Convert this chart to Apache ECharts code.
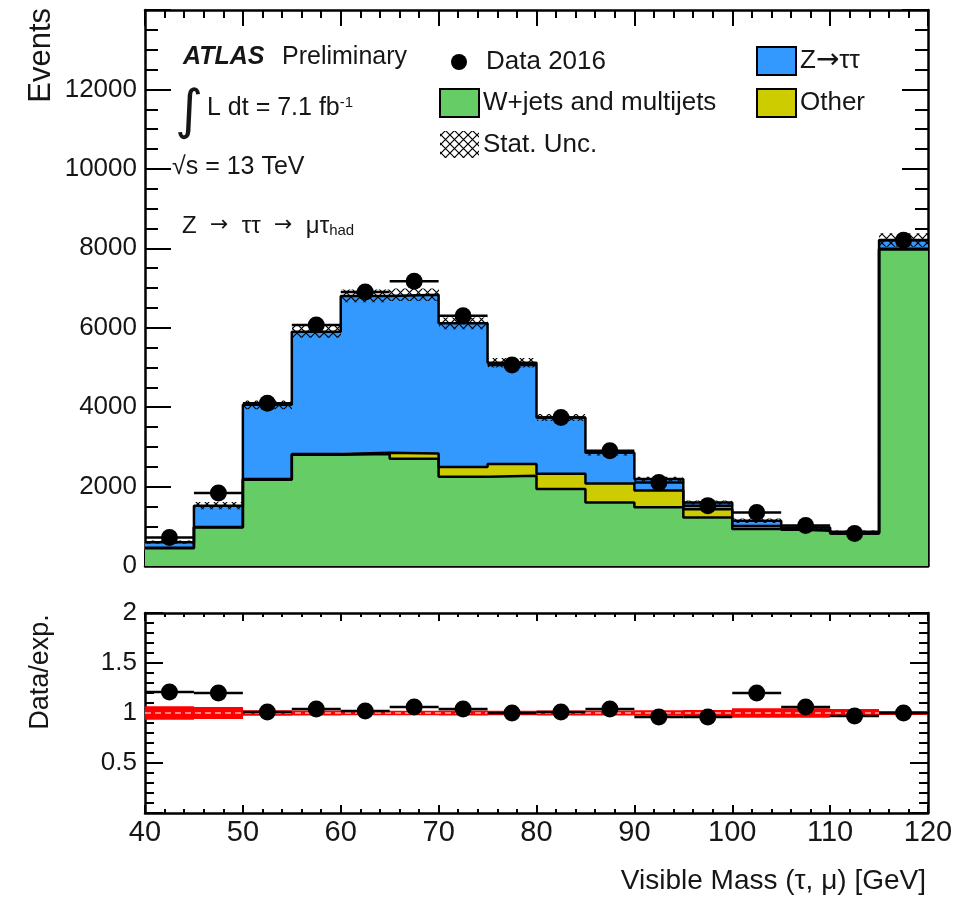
<!DOCTYPE html>
<html>
<head>
<meta charset="utf-8">
<script src="https://cdn.jsdelivr.net/npm/echarts@6/dist/echarts.min.js"></script>
<style>
  html, body { margin: 0; padding: 0; background: #fff; }
  #chart { width: 958px; height: 903px; }
</style>
</head>
<body>
<div id="chart"></div>
<script>
// Bin edges of the visible-mass histogram [GeV]
const binEdges = [40, 45, 50, 55, 60, 65, 70, 75, 80, 85, 90, 95, 100, 105, 110, 115, 120];

// Stacked background / signal yields per bin (events)
const wjetsMultijets = [450, 970, 2170, 2800, 2820, 2700, 2250, 2270, 1940, 1600, 1480, 1220, 930, 890, 820, 7970];
const otherBkg       = [10, 10, 20, 20, 30, 130, 240, 300, 380, 480, 420, 210, 80, 20, 10, 20];
const zTauTau        = [140, 540, 1870, 3080, 3950, 4000, 3620, 2550, 1420, 770, 290, 170, 130, 60, 30, 220];

// Observed data 2016 (events)
const data2016 = [720, 1840, 4100, 6070, 6900, 7170, 6300, 5060, 3740, 2900, 2100, 1520, 1350, 1020, 820, 8200];

// MC statistical uncertainty on the total expectation (events)
const statUnc = [40, 90, 110, 150, 160, 160, 150, 120, 90, 70, 60, 50, 55, 45, 35, 170];

// Data / expectation per bin
const ratioValues = [1.21, 1.20, 1.01, 1.04, 1.02, 1.06, 1.04, 1.00, 1.01, 1.04, 0.96, 0.96, 1.20, 1.06, 0.97, 1.00];

// Axis tick labels
const xTickLabels = [40, 50, 60, 70, 80, 90, 100, 110, 120];
const yTickLabelsMain = [0, 2000, 4000, 6000, 8000, 10000, 12000];
const yTickLabelsRatio = [0.5, 1, 1.5, 2];

const FONT = '"Liberation Sans", Arial, Helvetica, sans-serif';
const SYM_FONT = '"DejaVu Sans", ' + FONT;
const C_GREEN = '#66cc66';
const C_YELLOW = '#cccc00';
const C_BLUE = '#3399ff';
const C_RED = '#ff0000';
const C_TEXT = '#161616';

// Cross-hatch pattern for the statistical uncertainty band
function makeHatch() {
  const s = 9;
  const cv = document.createElement('canvas');
  cv.width = s; cv.height = s;
  const ctx = cv.getContext('2d');
  ctx.strokeStyle = '#000';
  ctx.lineWidth = 1.2;
  ctx.beginPath();
  ctx.moveTo(0, 0); ctx.lineTo(s, s);
  ctx.moveTo(s, 0); ctx.lineTo(0, s);
  ctx.stroke();
  return { image: cv, repeat: 'repeat' };
}
const hatch = makeHatch();

const nBins = binEdges.length - 1;
const cumGreen = wjetsMultijets.slice();
const cumOther = cumGreen.map((v, i) => v + otherBkg[i]);
const cumTotal = cumOther.map((v, i) => v + zTauTau[i]);

// Rectangles spanning one bin between two levels
function binRects(name, lows, highs, fill, xIdx, yIdx, z) {
  const d = lows.map((lo, i) => [binEdges[i], binEdges[i + 1], lo, highs[i]]);
  return {
    type: 'custom', name: name, xAxisIndex: xIdx, yAxisIndex: yIdx, z: z, silent: true,
    data: d, encode: { x: [0, 1], y: [2, 3] }, clip: true,
    renderItem: function (params, api) {
      const p0 = api.coord([api.value(0), api.value(2)]);
      const p1 = api.coord([api.value(1), api.value(3)]);
      const x0 = Math.round(p0[0]), x1 = Math.round(p1[0]);
      const y0 = Math.min(p0[1], p1[1]), h = Math.abs(p1[1] - p0[1]);
      return { type: 'rect', shape: { x: x0, y: y0, width: x1 - x0, height: h }, style: { fill: fill } };
    }
  };
}

// Histogram outline as a step line
function stepOutline(levels, xIdx, yIdx, z) {
  const pts = [];
  for (let i = 0; i < levels.length; i++) pts.push([binEdges[i], levels[i]]);
  pts.push([binEdges[levels.length], levels[levels.length - 1]]);
  return {
    type: 'line', xAxisIndex: xIdx, yAxisIndex: yIdx, z: z, silent: true, step: 'end',
    data: pts, showSymbol: false, symbol: 'none', animation: false,
    lineStyle: { color: '#000', width: 2.5 }
  };
}

// Horizontal bin-width bars for data points
function dataBars(values, xIdx, yIdx, z) {
  const d = values.map((v, i) => [binEdges[i], binEdges[i + 1], v]);
  return {
    type: 'custom', xAxisIndex: xIdx, yAxisIndex: yIdx, z: z, silent: true,
    data: d, encode: { x: [0, 1], y: 2 },
    renderItem: function (params, api) {
      const p0 = api.coord([api.value(0), api.value(2)]);
      const p1 = api.coord([api.value(1), api.value(2)]);
      return { type: 'line', shape: { x1: p0[0], y1: p0[1], x2: p1[0], y2: p1[1] },
               style: { stroke: '#000', lineWidth: 2.5 } };
    }
  };
}

function dataMarkers(values, xIdx, yIdx, z) {
  return {
    type: 'scatter', xAxisIndex: xIdx, yAxisIndex: yIdx, z: z, silent: true,
    data: values.map((v, i) => [(binEdges[i] + binEdges[i + 1]) / 2, v]),
    symbol: 'circle', symbolSize: 17, itemStyle: { color: '#000', opacity: 1 }
  };
}

function xAxisDef(gridIndex, position, showLabels, majorLen, minorLen) {
  return {
    type: 'value', gridIndex: gridIndex, position: position,
    min: 40, max: 120, interval: 10,
    axisLine: { show: true, onZero: false, lineStyle: { color: '#000', width: 2.5 } },
    axisTick: { show: true, inside: true, length: majorLen, lineStyle: { color: '#000', width: 2 } },
    minorTick: { show: true, splitNumber: 5, length: minorLen, lineStyle: { color: '#000', width: 2 } },
    splitLine: { show: false }, minorSplitLine: { show: false },
    axisLabel: {
      show: showLabels, color: C_TEXT, fontSize: 29, fontFamily: FONT, margin: 5,
      formatter: function (v) { return xTickLabels.indexOf(v) >= 0 ? String(v) : ''; }
    }
  };
}

function yAxisDef(gridIndex, position, min, max, interval, minorSplit, labels, majorLen, minorLen, fontSize) {
  return {
    type: 'value', gridIndex: gridIndex, position: position,
    min: min, max: max, interval: interval,
    axisLine: { show: true, onZero: false, lineStyle: { color: '#000', width: 2.5 } },
    axisTick: { show: true, inside: true, length: majorLen, lineStyle: { color: '#000', width: 2 } },
    minorTick: { show: true, splitNumber: minorSplit, length: minorLen, lineStyle: { color: '#000', width: 2 } },
    splitLine: { show: false }, minorSplitLine: { show: false },
    axisLabel: {
      show: labels !== null, color: C_TEXT, fontSize: fontSize, fontFamily: FONT, margin: 8,
      showMinLabel: true, showMaxLabel: true,
      formatter: function (v) {
        if (!labels) return '';
        for (const t of labels) if (Math.abs(t - v) < 1e-9) return String(t);
        return '';
      }
    }
  };
}

const gridLeft = 145, gridRight = 30;

const ratioUnc = statUnc.map((u, i) => u / cumTotal[i]);

const option = {
  animation: false,
  backgroundColor: '#fff',
  grid: [
    { left: gridLeft, right: gridRight, top: 10, height: 556, outerBoundsMode: 'none', containLabel: false },
    { left: gridLeft, right: gridRight, top: 613, height: 200, outerBoundsMode: 'none', containLabel: false }
  ],
  xAxis: [
    xAxisDef(0, 'bottom', false, 16, 8),
    xAxisDef(0, 'top', false, 16, 8),
    xAxisDef(1, 'bottom', true, 8, 4),
    xAxisDef(1, 'top', false, 8, 4)
  ],
  yAxis: [
    yAxisDef(0, 'left', 0, 14000, 2000, 4, yTickLabelsMain, 26, 13, 26),
    yAxisDef(0, 'right', 0, 14000, 2000, 4, null, 26, 13, 26),
    yAxisDef(1, 'left', 0, 2, 0.5, 5, yTickLabelsRatio, 18, 9, 26),
    yAxisDef(1, 'right', 0, 2, 0.5, 5, null, 18, 9, 26)
  ],
  series: [
    // stacked expectation
    binRects('W+jets and multijets', new Array(nBins).fill(0), cumGreen, C_GREEN, 0, 0, 1),
    binRects('Other', cumGreen, cumOther, C_YELLOW, 0, 0, 1),
    binRects('Z→ττ', cumOther, cumTotal, C_BLUE, 0, 0, 1),
    stepOutline(cumGreen, 0, 0, 3),
    stepOutline(cumOther, 0, 0, 3),
    stepOutline(cumTotal, 0, 0, 3),
    // statistical uncertainty band
    binRects('Stat. Unc.', cumTotal.map((t, i) => t - statUnc[i]), cumTotal.map((t, i) => t + statUnc[i]), hatch, 0, 0, 4),
    // data
    dataBars(data2016, 0, 0, 5),
    dataMarkers(data2016, 0, 0, 6),

    // ratio panel
    binRects('ratio band', ratioUnc.map(u => 1 - u), ratioUnc.map(u => 1 + u), C_RED, 2, 2, 1),
    {
      type: 'line', xAxisIndex: 2, yAxisIndex: 2, z: 2, silent: true,
      data: [[40, 1], [120, 1]], symbol: 'none', lineStyle: { color: C_RED, width: 2 }
    },
    {
      type: 'line', xAxisIndex: 2, yAxisIndex: 2, z: 3, silent: true,
      data: [[40, 1], [120, 1]], symbol: 'none', lineStyle: { color: '#fff', width: 1, type: [6, 4] }
    },
    dataBars(ratioValues, 2, 2, 5),
    dataMarkers(ratioValues, 2, 2, 6)
  ],
  graphic: [
    // axis titles
    { type: 'text', x: 41, y: 8, rotation: Math.PI / 2,
      style: { text: 'Events', font: '31px ' + FONT, fill: C_TEXT, align: 'right', verticalAlign: 'middle' } },
    { type: 'text', x: 41, y: 672, rotation: Math.PI / 2,
      style: { text: 'Data/exp.', font: '27px ' + FONT, fill: C_TEXT, align: 'center', verticalAlign: 'middle' } },
    { type: 'text', x: 926, y: 881,
      style: { text: 'Visible Mass (τ, μ) [GeV]', font: '28px ' + FONT, fill: C_TEXT, align: 'right', verticalAlign: 'middle' } },

    // experiment labels
    { type: 'text', x: 183, y: 57,
      style: { text: 'ATLAS', font: 'italic bold 25px ' + FONT, fill: C_TEXT, align: 'left', verticalAlign: 'middle' } },
    { type: 'text', x: 282, y: 57,
      style: { text: 'Preliminary', font: '25px ' + FONT, fill: C_TEXT, align: 'left', verticalAlign: 'middle' } },
    { type: 'text', x: 175, y: 114,
      style: { text: '∫', font: '54px ' + SYM_FONT, fill: C_TEXT, align: 'left', verticalAlign: 'middle' } },
    { type: 'text', x: 207, y: 108,
      style: {
        text: '{m|L dt = 7.1 fb}{s|-1}', align: 'left', verticalAlign: 'middle',
        rich: {
          m: { font: '25px ' + FONT, fill: C_TEXT, lineHeight: 25, verticalAlign: 'middle' },
          s: { font: '15px ' + FONT, fill: C_TEXT, lineHeight: 15, verticalAlign: 'top' }
        }
      } },
    { type: 'text', x: 172, y: 167,
      style: { text: '√s = 13 TeV', font: '25px ' + FONT, fill: C_TEXT, align: 'left', verticalAlign: 'middle' } },
    { type: 'text', x: 182, y: 226,
      style: {
        text: '{m|Z  }{a|→}{m|  ττ  }{a|→}{m|  μτ}{s|had}', align: 'left', verticalAlign: 'middle',
        rich: {
          m: { font: '24px ' + FONT, fill: C_TEXT, lineHeight: 24, verticalAlign: 'top' },
          a: { font: '22px ' + SYM_FONT, fill: C_TEXT, lineHeight: 24, verticalAlign: 'top' },
          s: { font: '15px ' + FONT, fill: C_TEXT, lineHeight: 15, verticalAlign: 'bottom' }
        }
      } },

    // legend
    { type: 'circle', shape: { cx: 459, cy: 62, r: 8 }, style: { fill: '#000' } },
    { type: 'text', x: 486, y: 62,
      style: { text: 'Data 2016', font: '26px ' + FONT, fill: C_TEXT, align: 'left', verticalAlign: 'middle' } },
    { type: 'rect', shape: { x: 440, y: 89, width: 39, height: 28 }, style: { fill: C_GREEN, stroke: '#000', lineWidth: 2 } },
    { type: 'text', x: 483, y: 103,
      style: { text: 'W+jets and multijets', font: '26px ' + FONT, fill: C_TEXT, align: 'left', verticalAlign: 'middle' } },
    { type: 'rect', shape: { x: 440, y: 131, width: 39, height: 27 }, style: { fill: hatch } },
    { type: 'text', x: 483, y: 145,
      style: { text: 'Stat. Unc.', font: '26px ' + FONT, fill: C_TEXT, align: 'left', verticalAlign: 'middle' } },
    { type: 'rect', shape: { x: 757, y: 47, width: 39, height: 28 }, style: { fill: C_BLUE, stroke: '#000', lineWidth: 2 } },
    { type: 'text', x: 800, y: 61,
      style: {
        text: '{m|Z}{a|→}{m|ττ}', align: 'left', verticalAlign: 'middle',
        rich: {
          m: { font: '26px ' + FONT, fill: C_TEXT, lineHeight: 26, verticalAlign: 'middle' },
          a: { font: '28px ' + SYM_FONT, fill: C_TEXT, lineHeight: 26, verticalAlign: 'middle' }
        }
      } },
    { type: 'rect', shape: { x: 757, y: 89, width: 39, height: 28 }, style: { fill: C_YELLOW, stroke: '#000', lineWidth: 2 } },
    { type: 'text', x: 800, y: 103,
      style: { text: 'Other', font: '26px ' + FONT, fill: C_TEXT, align: 'left', verticalAlign: 'middle' } }
  ]
};

const chart = echarts.init(document.getElementById('chart'), null, { renderer: 'canvas' });
chart.setOption(option);
</script>
</body>
</html>
